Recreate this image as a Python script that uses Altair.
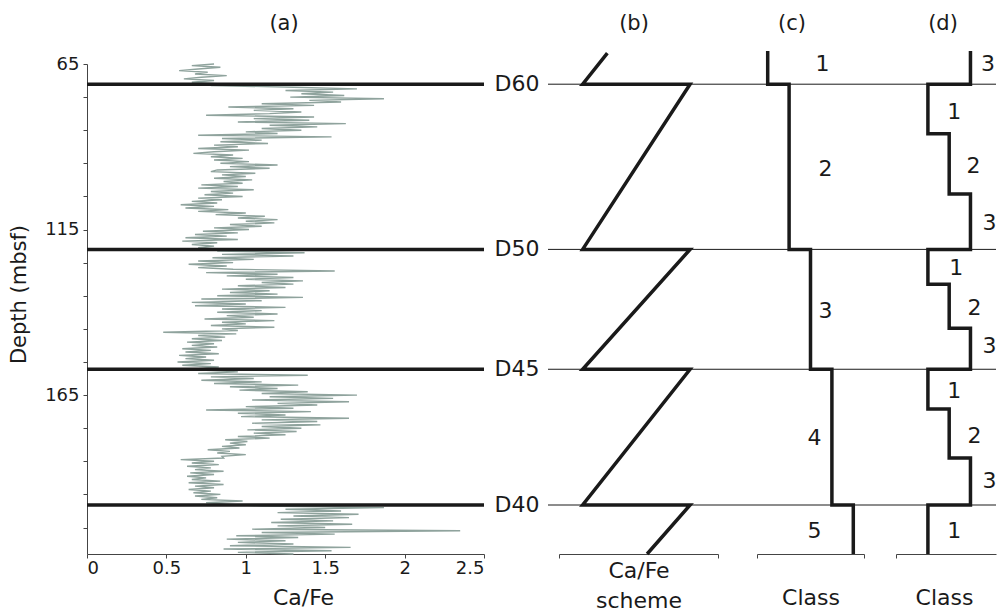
import altair as alt
import pandas as pd

FONT = "DejaVu Sans"
INK = "#1a1a1a"
TRACE = "#8fa39d"

# ---------------- data ----------------
# (a) Ca/Fe record, sampled every 0.5 m from 65 m
depth_top = 65.0
depth_step = 0.5
ca_fe = [
    0.80, 0.66, 0.84, 0.70, 0.58, 0.76, 0.68, 0.88, 0.72, 0.61,
    0.80, 0.66, 0.85, 0.78, 1.30, 1.70, 1.25, 1.55, 1.35, 1.62,
    1.28, 1.87, 1.40, 1.60, 1.10, 1.43, 0.89, 1.30, 1.05, 1.35,
    1.15, 0.75, 1.43, 1.05, 1.40, 0.95, 1.63, 1.15, 1.45, 1.10,
    1.35, 1.00, 1.20, 0.70, 1.54, 0.85, 1.10, 0.84, 1.14, 0.80,
    0.95, 0.70, 1.02, 0.80, 0.67, 0.92, 0.78, 0.98, 0.80, 1.02,
    0.84, 1.20, 0.90, 1.15, 0.82, 0.78, 1.06, 0.85, 1.00, 0.80,
    1.04, 0.86, 0.98, 0.72, 0.95, 0.70, 1.05, 0.78, 0.92, 0.74,
    0.98, 0.70, 0.85, 0.66, 0.82, 0.59, 0.80, 0.62, 0.89, 0.70,
    1.00, 0.81, 1.12, 0.95, 1.20, 1.00, 1.18, 0.90, 1.10, 0.80,
    1.02, 0.73, 0.95, 0.68, 0.88, 0.62, 0.95, 0.60, 0.82, 0.66,
    0.80, 0.70, 0.90, 0.82, 1.37, 0.85, 1.30, 0.79, 1.05, 0.70,
    0.92, 0.64, 0.88, 0.70, 0.92, 1.56, 0.75, 1.20, 0.88, 1.30,
    1.00, 1.36, 1.10, 1.30, 0.95, 1.25, 0.85, 1.15, 0.90, 1.20,
    0.82, 1.36, 0.72, 1.10, 0.66, 1.00, 0.68, 1.25, 0.85, 1.10,
    0.82, 1.20, 0.88, 1.05, 0.74, 1.18, 0.85, 1.00, 0.78, 1.18,
    0.85, 0.95, 0.48, 0.94, 0.70, 0.87, 0.66, 0.85, 0.63, 0.80,
    0.66, 0.82, 0.60, 0.78, 0.62, 0.83, 0.58, 0.75, 0.62, 0.80,
    0.57, 0.78, 0.60, 0.83, 0.70, 0.75, 0.95, 0.70, 1.39, 0.78,
    1.05, 0.72, 1.10, 0.80, 1.33, 0.90, 1.20, 0.96, 1.39, 1.10,
    1.70, 1.15, 1.55, 1.04, 1.65, 1.20, 1.45, 1.00, 1.30, 0.75,
    1.41, 0.95, 1.25, 0.97, 1.65, 1.10, 1.45, 1.04, 1.47, 1.10,
    1.35, 1.01, 1.32, 1.05, 1.25, 0.95, 1.15, 0.87, 1.01, 0.90,
    1.00, 0.85, 0.96, 0.76, 0.90, 0.82, 1.00, 0.85, 0.86, 0.59,
    0.80, 0.66, 0.83, 0.63, 0.78, 0.68, 0.86, 0.65, 0.80, 0.63,
    0.75, 0.66, 0.84, 0.64, 0.86, 0.68, 0.80, 0.64, 0.78, 0.67,
    0.84, 0.68, 0.82, 0.72, 0.98, 0.75, 0.90, 1.10, 1.87, 1.25,
    1.60, 1.20, 1.71, 1.30, 1.65, 1.22, 1.55, 1.16, 1.67, 1.20,
    1.50, 1.04, 2.35, 1.10, 1.56, 0.94, 1.33, 0.88, 1.25, 0.95,
    1.30, 0.90, 1.66, 0.86, 1.54, 0.95, 1.30,
]
depth = [depth_top + depth_step * i for i in range(len(ca_fe))]

horizon_name = ["D60", "D50", "D45", "D40"]
horizon_depth = [71.1, 121.0, 157.2, 198.2]

# (b) Ca/Fe scheme (0 = low, 1 = high)
scheme_value = [0.23, 0.0, 1.0, 0.0, 1.0, 0.0, 1.0, 0.0, 1.0, 0.6]
scheme_depth = [61.7, 71.1, 71.1, 121.0, 121.0, 157.2, 157.2, 198.2, 198.2, 213.0]

# (c) classes
c_class = [1, 2, 3, 4, 5]
c_top = [61.1, 71.1, 121.0, 157.2, 198.2]
c_bottom = [71.1, 121.0, 157.2, 198.2, 213.0]
c_label = ["1", "2", "3", "4", "5"]
c_label_x = [3.56, 3.70, 3.70, 3.19, 3.19]
c_label_depth = [65.0, 96.7, 139.6, 178.0, 206.0]

# (d) classes
d_class = [3, 1, 2, 3, 1, 2, 3, 1, 2, 3, 1]
d_top = [61.1, 71.1, 86.1, 104.3, 121.0, 131.5, 144.8, 157.2, 169.2, 184.0, 198.2]
d_bottom = [71.1, 86.1, 104.3, 121.0, 131.5, 144.8, 157.2, 169.2, 184.0, 198.2, 213.0]
d_label = ["3", "1", "2", "3", "1", "2", "3", "1", "2", "3", "1"]
d_label_x = [3.82, 2.24, 3.14, 3.9, 2.33, 3.19, 3.9, 2.24, 3.19, 3.9, 2.24]
d_label_depth = [65.0, 79.5, 95.8, 113.0, 126.6, 138.7, 150.2, 163.8, 177.4, 191.0, 206.1]

# ---------------- frames ----------------
trace_df = pd.DataFrame({"depth": depth, "cafe": ca_fe, "idx": range(len(ca_fe))})
hz_df = pd.DataFrame({"depth": horizon_depth, "name": horizon_name})
scheme_df = pd.DataFrame({"depth": scheme_depth, "v": scheme_value,
                          "idx": range(len(scheme_value))})


def step_frame(classes, tops, bottoms):
    rows = []
    for k, (c, t, b) in enumerate(zip(classes, tops, bottoms)):
        rows.append({"cls": c, "depth": t, "idx": 2 * k})
        rows.append({"cls": c, "depth": b, "idx": 2 * k + 1})
    return pd.DataFrame(rows)


c_df = step_frame(c_class, c_top, c_bottom)
d_df = step_frame(d_class, d_top, d_bottom)
c_lab_df = pd.DataFrame({"x": c_label_x, "depth": c_label_depth, "t": c_label})
d_lab_df = pd.DataFrame({"x": d_label_x, "depth": d_label_depth, "t": d_label})

A_W, B_W, C_W, D_W, H = 397, 273, 139, 100, 490

yscale = alt.Scale(domain=[65, 213], reverse=True, nice=False, zero=False)
y_none = alt.Y("depth:Q", scale=yscale, axis=None)

# ---------------- panel (a) ----------------
y_a = alt.Y(
    "depth:Q", scale=yscale,
    axis=alt.Axis(
        values=list(range(65, 215, 10)),
        labelExpr="datum.value % 50 == 15 ? datum.label : ''",
        title="Depth (mbsf)", tickSize=4, labelPadding=4,
        titleX=-68, titleY=230, titleAngle=-90,
        titleBaseline="middle", titleAlign="center", titleFontSize=21,
    ),
)
xscale_a = alt.Scale(domain=[0, 2.5], nice=False, zero=False)
x_a = alt.X(
    "cafe:Q", scale=xscale_a,
    axis=alt.Axis(values=[0, 0.5, 1, 1.5, 2, 2.5], format="~g", title="Ca/Fe",
                  tickSize=4, labelPadding=1, titleX=216, titleY=43,
                  titleBaseline="middle", titleAlign="center"),
)

trace = alt.Chart(trace_df).mark_line(color=TRACE, strokeWidth=1.4).encode(
    x=x_a, y=y_a, order="idx:Q")
hz_rule = alt.Chart(hz_df).mark_rule(color=INK, strokeWidth=3.5).encode(
    x=alt.datum(0), x2=alt.datum(2.5), y=y_a)
hz_text = alt.Chart(hz_df).mark_text(
    fontSize=22, align="center", baseline="middle", dx=33, color=INK).encode(
    x=alt.datum(2.5), y=y_a, text="name:N")
lab_a = alt.Chart(hz_df.head(1)).mark_text(
    fontSize=21, align="center", baseline="middle", color=INK).encode(
    x=alt.value(197), y=alt.value(-40), text=alt.value("(a)"))

panel_a = alt.layer(trace, hz_rule, hz_text, lab_a).properties(width=A_W, height=H)

# ---------------- panel (b) ----------------
x_b = alt.X(
    "v:Q",
    scale=alt.Scale(domain=[-0.22, 1.26], range=[75, 234], nice=False, zero=False),
    axis=alt.Axis(values=[-0.22, 1.26], labels=False, tickSize=4,
                  title=["Ca/Fe", "scheme"], titleLineHeight=30,
                  titleX=154.5, titleY=16, titleBaseline="middle", titleAlign="center"),
)
thin_b = alt.Chart(hz_df).mark_rule(color=INK, strokeWidth=1).encode(
    x=alt.value(64), x2=alt.value(B_W), y=y_none)
zig = alt.Chart(scheme_df).mark_line(color=INK, strokeWidth=3.5).encode(
    x=x_b, y=y_none, order="idx:Q")
lab_b = alt.Chart(hz_df.head(1)).mark_text(
    fontSize=21, align="center", baseline="middle", color=INK).encode(
    x=alt.value(150), y=alt.value(-40), text=alt.value("(b)"))
panel_b = alt.layer(zig, thin_b, lab_b).properties(width=B_W, height=H)

# ---------------- panel (c) ----------------
cscale = alt.Scale(domain=[0.5, 5.5], range=[0, 107], nice=False, zero=False)
x_c = alt.X(
    "cls:Q", scale=cscale,
    axis=alt.Axis(values=[0.5, 5.5], labels=False, tickSize=4, title="Class",
                  titleX=53.5, titleY=43, titleBaseline="middle", titleAlign="center"),
)
thin_c = alt.Chart(hz_df).mark_rule(color=INK, strokeWidth=1).encode(
    x=alt.value(0), x2=alt.value(C_W), y=y_none)
step_c = alt.Chart(c_df).mark_line(color=INK, strokeWidth=3.5).encode(
    x=x_c, y=y_none, order="idx:Q")
text_c = alt.Chart(c_lab_df).mark_text(
    fontSize=22, align="center", baseline="middle", color=INK).encode(
    x=alt.X("x:Q", scale=cscale), y=y_none, text="t:N")
lab_c = alt.Chart(hz_df.head(1)).mark_text(
    fontSize=21, align="center", baseline="middle", color=INK).encode(
    x=alt.value(35), y=alt.value(-40), text=alt.value("(c)"))
panel_c = alt.layer(step_c, thin_c, text_c, lab_c).properties(width=C_W, height=H)

# ---------------- panel (d) ----------------
dscale = alt.Scale(domain=[-0.5, 4.2], range=[0, D_W], nice=False, zero=False)
x_d = alt.X(
    "cls:Q", scale=dscale,
    axis=alt.Axis(values=[-0.5], labels=False, tickSize=4, title="Class",
                  titleX=48, titleY=43, titleBaseline="middle", titleAlign="center"),
)
thin_d = alt.Chart(hz_df).mark_rule(color=INK, strokeWidth=1).encode(
    x=alt.value(0), x2=alt.value(D_W), y=y_none)
step_d = alt.Chart(d_df).mark_line(color=INK, strokeWidth=3.5).encode(
    x=x_d, y=y_none, order="idx:Q")
text_d = alt.Chart(d_lab_df).mark_text(
    fontSize=22, align="center", baseline="middle", color=INK).encode(
    x=alt.X("x:Q", scale=dscale), y=y_none, text="t:N")
lab_d = alt.Chart(hz_df.head(1)).mark_text(
    fontSize=21, align="center", baseline="middle", color=INK).encode(
    x=alt.value(47), y=alt.value(-40), text=alt.value("(d)"))
panel_d = alt.layer(step_d, thin_d, text_d, lab_d).properties(width=D_W, height=H)

chart = alt.hconcat(
    panel_a, panel_b, panel_c, panel_d, spacing=0, bounds="flush"
).properties(
    padding={"left": 8, "top": 13, "right": 0, "bottom": 0}
).configure_view(stroke=None).configure_axis(
    grid=False, domainColor="#444", tickColor="#444", domainWidth=1, tickWidth=1,
    labelFont=FONT, titleFont=FONT, labelColor=INK, titleColor=INK,
    labelFontSize=18, titleFontSize=22, titleFontWeight="normal",
).configure_text(font=FONT)

chart.save("out.html", embed_options={"renderer": "svg", "actions": False})
